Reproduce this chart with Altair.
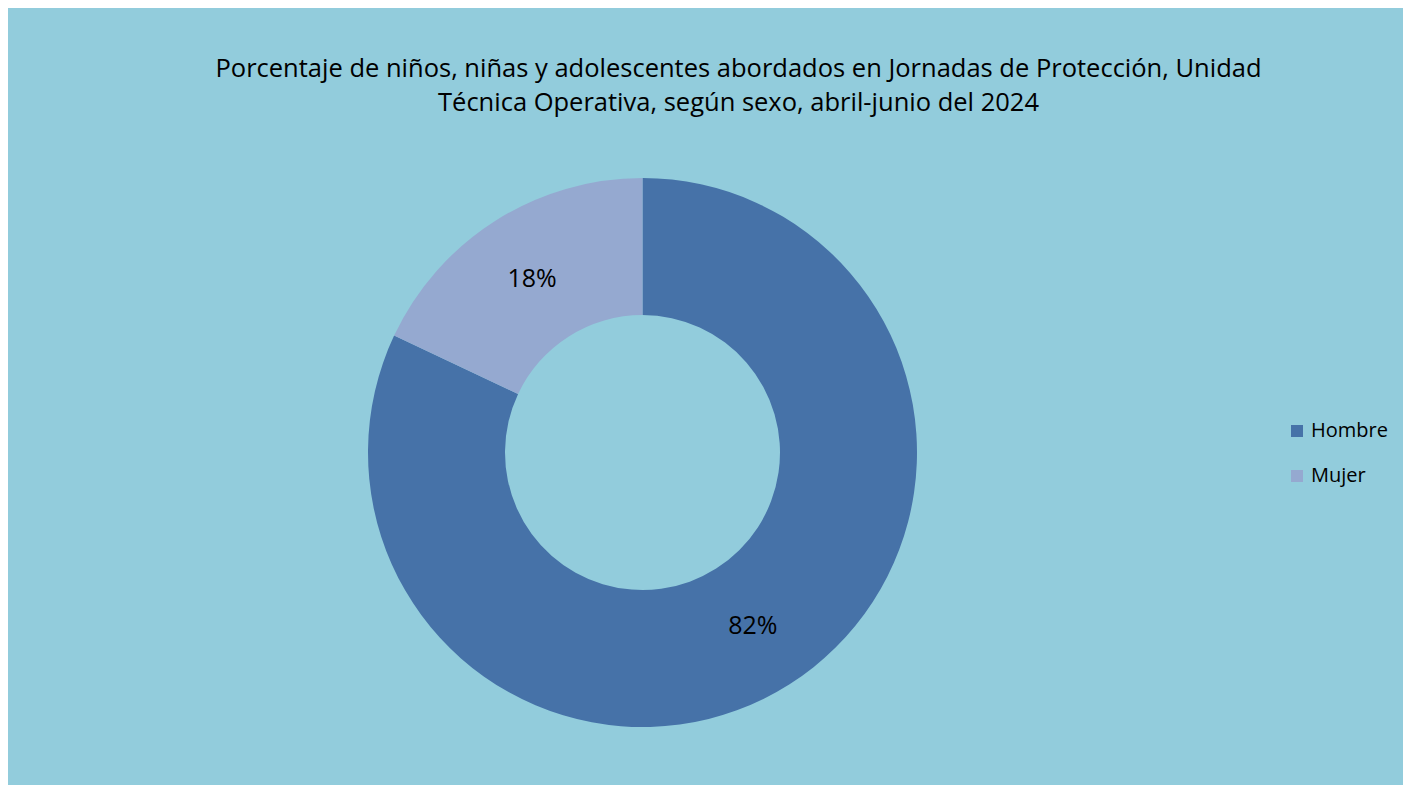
import altair as alt
import pandas as pd

categories = ["Hombre", "Mujer"]
values = [82, 18]
labels = ["82%", "18%"]
order_idx = [0, 1]
title_text = ("Porcentaje de niños, niñas y adolescentes abordados en Jornadas de Protección, Unidad\n"
              "Técnica Operativa, según sexo, abril-junio del 2024")

colors = ["#4672A8", "#95A9D0"]
bg = "#92CCDC"
font = "Open Sans"

df = pd.DataFrame({"sexo": categories, "valor": values, "etiqueta": labels, "orden": order_idx})

W, H = 1395, 777
cx, cy = 634.5, 444.5

base = alt.Chart(df).encode(
    theta=alt.Theta("valor:Q", stack=True),
    order=alt.Order("orden:Q"),
)

arc = base.mark_arc(outerRadius=274.5, innerRadius=137.5, x=cx, y=cy).encode(
    color=alt.Color(
        "sexo:N",
        scale=alt.Scale(domain=categories, range=colors),
        legend=alt.Legend(
            title=None,
            orient="none",
            legendX=1279,
            legendY=413,
            symbolType="square",
            symbolSize=144,
            symbolStrokeWidth=0,
            labelFont=font,
            labelFontSize=20,
            labelColor="#000000",
            labelOffset=4,
            rowPadding=25,
        ),
    )
)

txt = base.mark_text(radius=206, x=cx, y=cy, font=font, fontSize=25, color="#000000").encode(
    text="etiqueta:N"
)

title = alt.Chart(pd.DataFrame({"t": [title_text]})).mark_text(
    x=730.5, y=68.5, font=font, fontSize=25.5, color="#000000",
    lineBreak="\n", lineHeight=34, baseline="alphabetic", align="center"
).encode(text="t:N")

chart = alt.layer(arc, txt, title).properties(
    width=W, height=H, background=bg, padding=0,
    autosize=alt.AutoSizeParams(type="none"),
).configure_view(stroke="#D9D9D9", strokeWidth=1.5, fill=bg)

chart.save("out.html", embed_options={"renderer": "svg", "actions": False})
